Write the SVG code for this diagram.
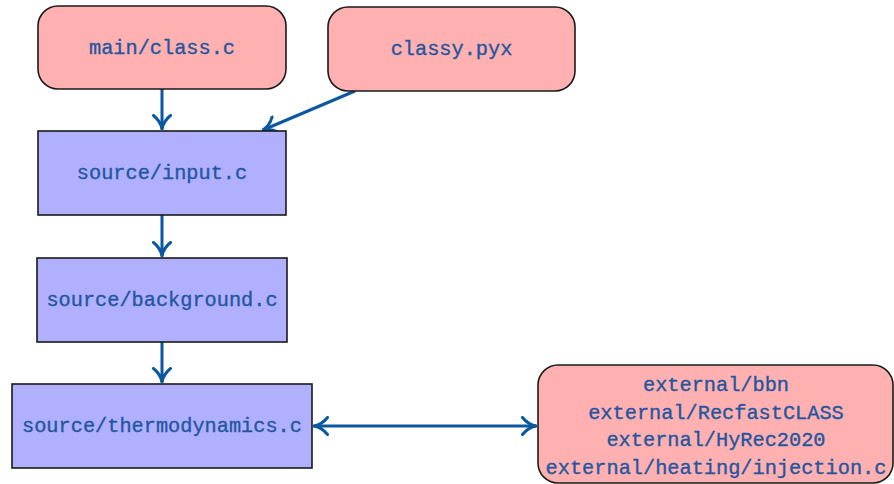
<svg xmlns="http://www.w3.org/2000/svg" width="894" height="484" viewBox="0 0 894 484">
  <style>
    .src { fill: #ffb0b0; stroke: #1a1a1a; stroke-width: 1.6; }
    .mod { fill: #b0b0ff; stroke: #1a1a1a; stroke-width: 1.6; }
    .lbl { font-family: "Liberation Mono", "DejaVu Sans Mono", monospace; font-size: 20.3px; fill: #2456a0; stroke: #2456a0; stroke-width: 0.35; text-anchor: middle; }
    .edge { stroke: #0b57a0; stroke-width: 3; fill: none; }
  </style>
  <defs>
    <!-- curved open arrow tip, shared by every connector end -->
    <marker id="tip" viewBox="0 0 16 20" refX="15" refY="10" markerWidth="16" markerHeight="20" markerUnits="userSpaceOnUse" orient="auto-start-reverse">
      <path d="M1.5,1.5 Q7,8.5 15,10 Q7,11.5 1.5,18.5" fill="none" stroke="#0b57a0" stroke-width="3" stroke-linecap="round" stroke-linejoin="round"/>
    </marker>
  </defs>
  <rect width="894" height="484" fill="#ffffff"/>

  <g id="edges">
    <line class="edge" x1="162" y1="89" x2="162" y2="129" marker-end="url(#tip)"/>
    <line class="edge" x1="355" y1="91" x2="263" y2="130" marker-end="url(#tip)"/>
    <line class="edge" x1="162" y1="215" x2="162" y2="256" marker-end="url(#tip)"/>
    <line class="edge" x1="162" y1="342" x2="162" y2="382" marker-end="url(#tip)"/>
    <line class="edge" x1="314" y1="426" x2="536" y2="426" marker-start="url(#tip)" marker-end="url(#tip)"/>
  </g>

  <g id="main-class">
    <rect class="src" x="38" y="6" width="248" height="83" rx="20" ry="20"/>
    <text class="lbl" x="162" y="54">main/class.c</text>
  </g>

  <g id="classy">
    <rect class="src" x="328" y="7" width="247" height="84" rx="20" ry="20"/>
    <text class="lbl" x="451.5" y="55">classy.pyx</text>
  </g>

  <g id="input">
    <rect class="mod" x="38" y="131" width="248" height="84"/>
    <text class="lbl" x="162" y="179">source/input.c</text>
  </g>

  <g id="background">
    <rect class="mod" x="37" y="258" width="250" height="84"/>
    <text class="lbl" x="162" y="306">source/background.c</text>
  </g>

  <g id="thermodynamics">
    <rect class="mod" x="12" y="384" width="300" height="84"/>
    <text class="lbl" x="162" y="432">source/thermodynamics.c</text>
  </g>

  <g id="external">
    <rect class="src" x="538" y="365" width="355" height="118" rx="20" ry="20"/>
    <text class="lbl" x="716" y="391">external/bbn</text>
    <text class="lbl" x="716" y="418.5">external/RecfastCLASS</text>
    <text class="lbl" x="716" y="446">external/HyRec2020</text>
    <text class="lbl" x="716" y="474">external/heating/injection.c</text>
  </g>
</svg>
